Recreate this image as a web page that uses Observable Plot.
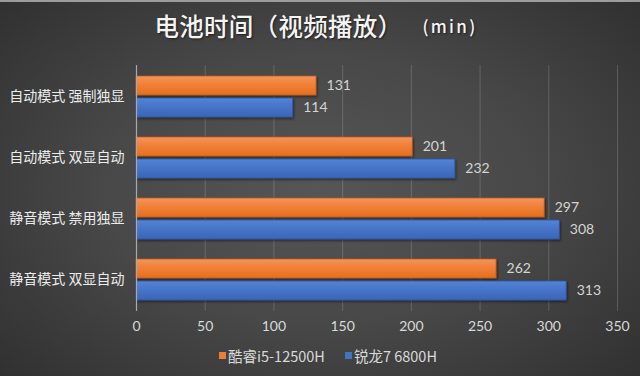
<!DOCTYPE html>
<html>
<head>
<meta charset="utf-8">
<script src="https://cdn.jsdelivr.net/npm/d3@7"></script>
<script src="https://cdn.jsdelivr.net/npm/@observablehq/plot@0.6"></script>
<style>
  html, body { margin: 0; padding: 0; }
  #wrap {
    width: 640px; height: 376px; box-sizing: border-box; overflow: hidden;
    background: radial-gradient(ellipse 75% 80% at 50% 50%, #565656 0%, #484848 45%, #2c2c2c 100%);
    border-top: 2px solid #9c9c9c;
    font-family: Lato, "Noto Sans CJK SC", sans-serif;
  }
  #title {
    height: 50px; display: flex; align-items: center; justify-content: center;
    color: #f4f4f4; font-family: "Noto Sans CJK SC", sans-serif; font-size: 24.5px; font-weight: 500;
    text-shadow: 1px 1px 2px rgba(0,0,0,0.6); letter-spacing: 0.3px; padding-bottom: 3px; padding-right: 8px; box-sizing: border-box;
  }
  #title .unit { font-size: 17px; margin-left: 20px; letter-spacing: 2.3px; }
  #legend {
    height: 42px; display: flex; align-items: center; justify-content: center; gap: 20px;
    color: #d9d9d9; font-size: 14.5px; font-family: "Noto Sans CJK SC", sans-serif; padding-left: 16px; padding-bottom: 4px; box-sizing: border-box;
  }
  #legend .item { display: flex; align-items: center; }
  #legend .sw { width: 7px; height: 7px; margin-right: 2px; }
</style>
</head>
<body>
<div id="wrap">
  <div id="title"></div>
  <div id="chart"></div>
  <div id="legend"></div>
</div>
<script>
const titleMain = "电池时间（视频播放）";
const titleUnit = "(min)";
const categories = ["自动模式 强制独显", "自动模式 双显自动", "静音模式 禁用独显", "静音模式 双显自动"];
const seriesNames = ["酷睿i5-12500H", "锐龙7 6800H"];
const intelValues = [131, 201, 297, 262];
const amdValues = [114, 232, 308, 313];
const xTicks = [0, 50, 100, 150, 200, 250, 300, 350];
const seriesColors = ["#ED7D31", "#4472C4"];

document.getElementById("title").innerHTML =
  titleMain + '<span class="unit">' + titleUnit + '</span>';

const intelData = categories.map((c, i) => ({category: c, value: intelValues[i], series: seriesNames[0]}));
const amdData = categories.map((c, i) => ({category: c, value: amdValues[i], series: seriesNames[1]}));

const chart = Plot.plot({
  width: 640,
  height: 284,
  marginTop: 13,
  marginBottom: 25,
  marginLeft: 136,
  marginRight: 23,
  style: {background: "transparent", color: "#d9d9d9", fontSize: "14px", fontFamily: "Lato, 'Noto Sans CJK SC', sans-serif"},
  x: {domain: [0, 350], ticks: xTicks, tickSize: 0, tickPadding: 10, label: null},
  y: {domain: categories, paddingInner: 0.333, paddingOuter: 0.167, tickSize: 0, tickPadding: 12, label: null},
  marks: [
    Plot.ruleX(xTicks.slice(1), {stroke: "#ffffff", strokeOpacity: 0.17, strokeWidth: 1}),
    Plot.barX(intelData, {y: "category", x: "value", fill: "url(#gradO)", stroke: "#b85a1c", strokeWidth: 0.8, insetBottom: 22}),
    Plot.barX(amdData, {y: "category", x: "value", fill: "url(#gradB)", stroke: "#2f55a0", strokeWidth: 0.8, insetTop: 22}),
    Plot.ruleX([0], {stroke: "#a8a8a8", strokeWidth: 1.2}),
    Plot.text(intelData, {y: "category", x: "value", text: d => String(d.value), dx: 10, dy: -11, textAnchor: "start", fill: "#d4d4d4", fontSize: 14}),
    Plot.text(amdData, {y: "category", x: "value", text: d => String(d.value), dx: 10, dy: 11, textAnchor: "start", fill: "#d4d4d4", fontSize: 14})
  ]
});

// gradients & shadow for bars
const ns = "http://www.w3.org/2000/svg";
const defs = document.createElementNS(ns, "defs");
defs.innerHTML = `
  <linearGradient id="gradO" x1="0" y1="0" x2="0" y2="1">
    <stop offset="0" stop-color="#F4945A"/>
    <stop offset="0.5" stop-color="#F07E35"/>
    <stop offset="1" stop-color="#E56F1E"/>
  </linearGradient>
  <linearGradient id="gradB" x1="0" y1="0" x2="0" y2="1">
    <stop offset="0" stop-color="#5384D6"/>
    <stop offset="0.5" stop-color="#4673C6"/>
    <stop offset="1" stop-color="#3A66B8"/>
  </linearGradient>
  <filter id="shadow" x="-5%" y="-20%" width="110%" height="160%">
    <feDropShadow dx="1" dy="1.5" stdDeviation="1" flood-color="#000" flood-opacity="0.5"/>
  </filter>`;
chart.insertBefore(defs, chart.firstChild);
chart.querySelectorAll("g[aria-label='bar']").forEach(g => g.setAttribute("filter", "url(#shadow)"));
chart.querySelectorAll("g[aria-label='y-axis tick label'] text").forEach(t => {
  t.setAttribute("fill", "#ececec");
  t.style.fontSize = "14px";
  t.style.fontFamily = "'Noto Sans CJK SC', sans-serif";
});
document.getElementById("chart").appendChild(chart);

const legend = document.getElementById("legend");
seriesNames.forEach((name, i) => {
  const item = document.createElement("div");
  item.className = "item";
  item.innerHTML = `<span class="sw" style="background:${seriesColors[i]}"></span><span>${name}</span>`;
  legend.appendChild(item);
});
</script>
</body>
</html>
